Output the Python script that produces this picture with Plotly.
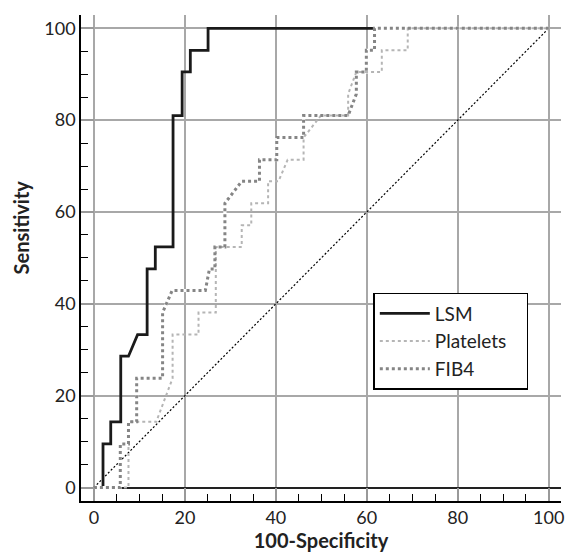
import plotly.graph_objects as go

# ROC curve vertices (100-Specificity, Sensitivity)
lsm_x = [0, 2.0, 2.0, 3.7, 3.7, 5.9, 5.9, 7.6, 9.6, 11.7, 11.7, 13.5, 13.5, 17.4, 17.4,
         19.4, 19.4, 21.2, 21.2, 25.1, 25.1, 100]
lsm_y = [0, 0, 9.5, 9.5, 14.3, 14.3, 28.6, 28.6, 33.3, 33.3, 47.6, 47.6, 52.4, 52.4, 81.0,
         81.0, 90.5, 90.5, 95.2, 95.2, 100, 100]

plt_x = [0, 7.6, 7.6, 13.7, 17.3, 17.3, 23.0, 23.0, 26.8, 26.8, 32.5, 32.5, 34.6, 34.6,
         38.3, 38.3, 40.6, 42.6, 46.1, 46.1, 49.9, 55.9, 55.9, 57.7, 63.3, 63.3, 69.0, 69.0, 100]
plt_y = [0, 0, 14.3, 14.3, 23.8, 33.3, 33.3, 38.1, 38.1, 52.4, 52.4, 57.1, 57.1, 61.9,
         61.9, 66.7, 66.7, 71.4, 71.4, 76.2, 81.0, 81.0, 85.7, 90.5, 90.5, 95.2, 95.2, 100, 100]

fib_x = [0, 5.8, 5.8, 7.6, 7.6, 9.4, 9.4, 15.1, 15.1, 16.1, 17.2, 24.5, 25.0, 25.4, 26.6,
         26.6, 28.8, 28.8, 32.5, 36.4, 36.4, 40.2, 40.2, 46.1, 46.1, 55.9, 57.7, 57.7, 59.9,
         59.9, 61.7, 61.7, 100]
fib_y = [0, 0, 9.5, 9.5, 14.3, 14.3, 23.8, 23.8, 38.1, 40.5, 42.9, 42.9, 45.2, 47.6, 47.6,
         52.4, 52.4, 61.9, 66.7, 66.7, 71.4, 71.4, 76.2, 76.2, 81.0, 81.0, 85.7, 90.5, 90.5,
         95.2, 95.2, 100, 100]

diag_x = [0, 100]
diag_y = [0, 100]

tick_vals = [0, 20, 40, 60, 80, 100]
tick_text = ["0", "20", "40", "60", "80", "100"]

FONT = "Lato, Open Sans, sans-serif"
NB = "\u00a0"

fig = go.Figure()
fig.add_trace(go.Scatter(x=diag_x, y=diag_y, mode="lines", showlegend=False,
                         line=dict(color="black", width=1.2, dash="2px,2px"), hoverinfo="skip"))
fig.add_trace(go.Scatter(x=lsm_x, y=lsm_y, mode="lines", name="LSM",
                         line=dict(color="#1a1a1a", width=2.8)))
fig.add_trace(go.Scatter(x=fib_x, y=fib_y, mode="lines", showlegend=False,
                         line=dict(color="white", width=3.2), hoverinfo="skip"))
fig.add_trace(go.Scatter(x=plt_x, y=plt_y, mode="lines", name="Platelets" + NB * 3,
                         line=dict(color="#b5b5b5", width=2, dash="3px,3px")))
fig.add_trace(go.Scatter(x=fib_x, y=fib_y, mode="lines", name="FIB4",
                         line=dict(color="#858585", width=3, dash="3px,3px")))

axis_common = dict(
    showgrid=True, gridcolor="#a8a8a8", gridwidth=1.5,
    showline=True, linecolor="black", linewidth=1.5,
    tickmode="array", tickvals=tick_vals, ticktext=tick_text,
    ticks="inside", ticklen=13, tickcolor="#999999", tickwidth=1.5,
    minor=dict(dtick=5, tick0=0, ticks="inside", ticklen=7, tickcolor="black",
               tickwidth=1.2, showgrid=False),
    tickfont=dict(family=FONT, size=18, color="#222222"),
    mirror=False,
)

fig.update_layout(
    width=570, height=553,
    margin=dict(l=81, r=6, t=15, b=52),
    paper_bgcolor="white", plot_bgcolor="white",
    xaxis=dict(range=[-2.84, 102.7], zeroline=False,
               title=dict(text="<b>100-Specificity</b>", standoff=2,
                          font=dict(family=FONT, size=20, color="#222222")),
               **axis_common),
    yaxis=dict(range=[-2.94, 102.9], zeroline=True, zerolinecolor="#222222", zerolinewidth=1.5,
               **axis_common),
    legend=dict(x=0.609, y=0.428, xanchor="left", yanchor="top",
                bordercolor="black", borderwidth=1.5, bgcolor="white",
                font=dict(family=FONT, size=19, color="#222222"),
                tracegroupgap=0, itemwidth=50),
    annotations=[dict(text="<b>Sensitivity</b>", xref="paper", yref="paper",
                      x=-0.126, y=0.562, xanchor="center", yanchor="middle",
                      textangle=-90, showarrow=False,
                      font=dict(family=FONT, size=20, color="#222222"))],
)

fig.write_html("out.html", config={"displayModeBar": False},
               post_script="document.body.style.margin='0';document.body.style.overflow='hidden';")
